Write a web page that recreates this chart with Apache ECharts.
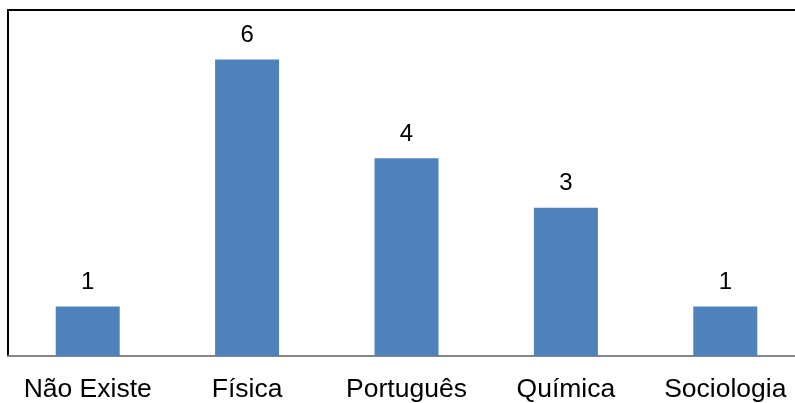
<!DOCTYPE html>
<html>
<head>
<meta charset="utf-8">
<script src="https://cdn.jsdelivr.net/npm/echarts@6/dist/echarts.min.js"></script>
<style>html,body{margin:0;padding:0;background:#fff;overflow:hidden}#c{width:805px;height:403px}</style>
</head>
<body>
<div id="c"></div>
<script>
const categories = ['Não Existe', 'Física', 'Português', 'Química', 'Sociologia'];
const values = [1, 6, 4, 3, 1];
const yMin = 0;
const yMax = 7;

const chart = echarts.init(document.getElementById('c'), null, {renderer: 'canvas'});
chart.setOption({
  animation: false,
  backgroundColor: '#ffffff',
  grid: {left: 8, top: 10, right: 0, height: 348, containLabel: false},
  xAxis: [{
    type: 'category',
    data: categories,
    position: 'bottom',
    axisLine: {show: true, lineStyle: {color: '#868686', width: 2}},
    axisTick: {show: false},
    axisLabel: {color: '#000', fontFamily: 'Liberation Sans, Arial, sans-serif', fontSize: 26.5, margin: 20, interval: 0}
  }, {
    type: 'category',
    data: categories,
    position: 'top',
    axisLine: {show: true, lineStyle: {color: '#000', width: 2}},
    axisTick: {show: false},
    axisLabel: {show: false}
  }],
  yAxis: {
    type: 'value',
    min: yMin,
    max: yMax,
    axisLine: {show: true, lineStyle: {color: '#000', width: 2}},
    axisTick: {show: false},
    axisLabel: {show: false},
    splitLine: {show: false}
  },
  series: [{
    type: 'bar',
    data: values,
    xAxisIndex: 0,
    barWidth: 64,
    itemStyle: {color: '#4F81BD'},
    label: {show: true, position: 'top', distance: 12, color: '#000', fontFamily: 'Liberation Sans, Arial, sans-serif', fontSize: 24}
  }]
});
</script>
</body>
</html>
